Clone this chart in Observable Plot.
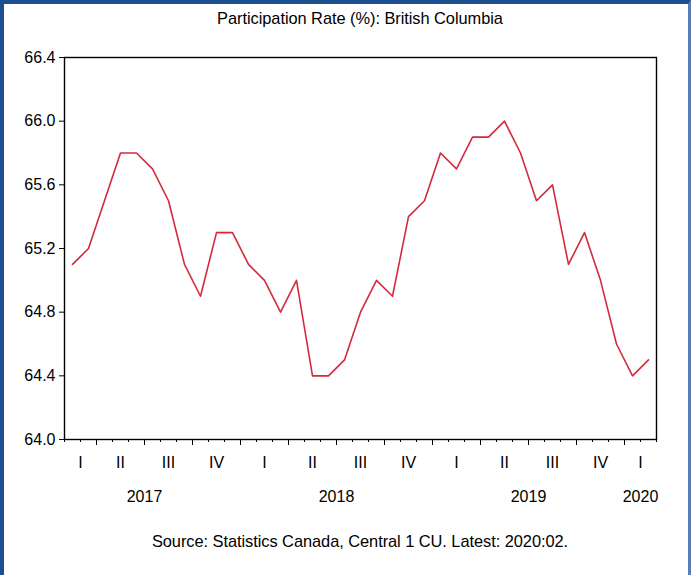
<!DOCTYPE html>
<html><head><meta charset="utf-8">
<script src="https://cdn.jsdelivr.net/npm/d3@7"></script>
<script src="https://cdn.jsdelivr.net/npm/@observablehq/plot@0.6"></script>
<style>
body{margin:0;background:#fff;}
#wrap{position:relative;width:691px;height:575px;overflow:hidden;font-family:"Liberation Sans",Arial,sans-serif;color:#000;background:#fff;}
#border{position:absolute;left:0;top:0;width:691px;height:575px;box-sizing:border-box;border-left:4px solid #1d4f8f;border-top:4px solid #1d4f8f;border-right:3px solid #5a7fb5;pointer-events:none;}
#title{position:absolute;left:64px;width:592px;top:9px;text-align:center;font-size:16.4px;letter-spacing:-0.05px;}
#chart{position:absolute;left:0;top:40px;}
#caption{position:absolute;left:64px;width:592px;top:532px;text-align:center;font-size:16.4px;letter-spacing:-0.05px;}
</style></head>
<body>
<div id="wrap">
  <div id="title">Participation Rate (%): British Columbia</div>
  <div id="chart"></div>
  <div id="caption">Source: Statistics Canada, Central 1 CU. Latest: 2020:02.</div>
  <div id="border"></div>
</div>
<script>
// Monthly participation rate, Feb 2017 .. Feb 2020
const startYear = 2017, startMonth = 2; // first observation: 2017:02
const rates = [65.1, 65.2, 65.5, 65.8, 65.8, 65.7, 65.5, 65.1, 64.9, 65.3, 65.3,
               65.1, 65.0, 64.8, 65.0, 64.4, 64.4, 64.5, 64.8, 65.0, 64.9, 65.4, 65.5,
               65.8, 65.7, 65.9, 65.9, 66.0, 65.8, 65.5, 65.6, 65.1, 65.3, 65.0, 64.6,
               64.4, 64.5];
const yTicks = [64.0, 64.4, 64.8, 65.2, 65.6, 66.0, 66.4];
const quarterNames = ["I", "II", "III", "IV"];
const yDomain = [64.0, 66.4];

const n = rates.length;
const data = rates.map((v, i) => {
  const m0 = (startMonth - 1 + i); // months since Jan startYear
  return {i, v, year: startYear + Math.floor(m0 / 12), month: m0 % 12};
});

// month boundaries (ticks)
const bounds = d3.range(n + 1).map(k => k - 0.5);
const monthAt = k => (startMonth - 1 + k) % 12;
const longBounds = bounds.filter((b, k) => k < n && k > 0 && monthAt(k) % 3 === 0);

// quarter labels centred on the visible months of each quarter
const qGroups = d3.groups(data, d => d.year * 4 + Math.floor(d.month / 3));
const qPos = qGroups.map(([key, arr]) => d3.mean(arr, d => d.i));
const qLab = new Map(qGroups.map(([key, arr], j) => [qPos[j], quarterNames[key % 4]]));

// year labels centred on the full calendar year
const years = Array.from(new Set(data.map(d => d.year)));
const yearPos = years.map(y => {
  const firstIdx = (y - startYear) * 12 - (startMonth - 1);
  const arr = data.filter(d => d.year === y);
  const full = firstIdx + 5.5;
  return (arr.length < 12 && arr[0].i === firstIdx) ? d3.mean(arr, d => d.i) : full;
});
const yearLab = new Map(yearPos.map((p, j) => [p, String(years[j])]));

const chart = Plot.plot({
  width: 691,
  height: 475,
  marginLeft: 64,
  marginRight: 35,
  marginTop: 17,
  marginBottom: 76,
  x: {domain: [-0.5, n - 0.5], axis: null},
  y: {domain: yDomain, axis: null},
  style: {fontFamily: "'Liberation Sans', Arial, sans-serif", fontSize: "16px", color: "#000", background: "#fff"},
  marks: [
    Plot.axisY(yTicks, {tickSize: 5, tickPadding: 4, tickFormat: d => d.toFixed(1), fontSize: 16, label: null}),
    Plot.axisX(bounds, {tickSize: 3, tickFormat: () => "", label: null}),
    Plot.axisX(longBounds, {tickSize: 6, tickFormat: () => "", label: null}),
    Plot.axisX(qPos, {tickSize: 0, tickPadding: 17, tickFormat: d => qLab.get(d), fontSize: 16, label: null}),
    Plot.axisX(yearPos, {tickSize: 0, tickPadding: 51, tickFormat: d => yearLab.get(d), fontSize: 16, label: null}),
    Plot.line(data, {x: "i", y: "v", stroke: "#d42a3c", strokeWidth: 1.6}),
    Plot.frame({stroke: "#000", strokeWidth: 1.4})
  ]
});
document.getElementById("chart").appendChild(chart);
</script>
</body></html>
